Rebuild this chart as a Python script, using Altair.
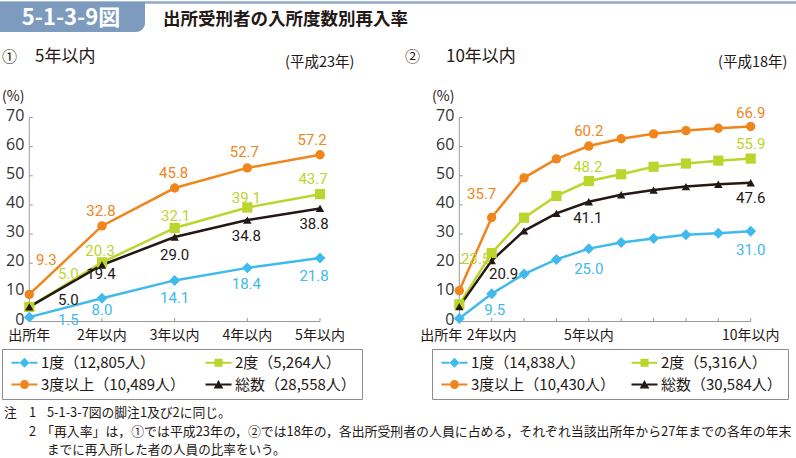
import altair as alt
import pandas as pd

# ---------------- data ----------------
series = ["1度", "2度", "3度以上", "総数"]

left_x_labels = ["出所年", "2年以内", "3年以内", "4年以内", "5年以内"]
left_counts = ["12,805", "5,264", "10,489", "28,558"]
left_1 = [1.5, 8.0, 14.1, 18.4, 21.8]
left_2 = [5.0, 20.3, 32.1, 39.1, 43.7]
left_3 = [9.3, 32.8, 45.8, 52.7, 57.2]
left_t = [5.0, 19.4, 29.0, 34.8, 38.8]

right_x_labels = ["出所年", "2年以内", "", "", "5年以内", "", "", "", "", "10年以内"]
right_counts = ["14,838", "5,316", "10,430", "30,584"]
right_1 = [1.0, 9.5, 16.3, 21.3, 25.0, 27.1, 28.5, 29.8, 30.3, 31.0]
right_2 = [5.9, 23.5, 35.6, 43.1, 48.2, 50.5, 53.1, 54.2, 55.2, 55.9]
right_3 = [10.6, 35.7, 49.3, 55.8, 60.2, 62.7, 64.4, 65.5, 66.3, 66.9]
right_t = [5.1, 20.9, 31.1, 37.1, 41.1, 43.5, 45.1, 46.3, 47.1, 47.6]
right_labeled = [2, 5, 10]

y_ticks = [0, 10, 20, 30, 40, 50, 60, 70]

# ---------------- styles ----------------
COLORS = ["#40b9ec", "#bcd52d", "#f0851c", "#231815"]
SHAPES = ["diamond", "square", "circle", "triangle-up"]
SIZES = [120, 72, 75, 95]
DRAW_ORDER = ["1度", "3度以上", "2度", "総数"]
JP = "Noto Sans CJK JP"
NUM = "Roboto"
INK = "#231815"
AX = "#9a9a9a"
Y_RANGE = [321.5, 117.5]
PX_Y = (Y_RANGE[0] - Y_RANGE[1]) / (y_ticks[-1] - y_ticks[0])

# label offsets (pixels, relative to the point) -- placement style only
LEFT_OFF = {
    ("3度以上", 1): (17, -34), ("3度以上", 2): (-1, -15), ("3度以上", 3): (-1, -15),
    ("3度以上", 4): (-3, -16), ("3度以上", 5): (-8, -15),
    ("2度", 1): (39, -33), ("2度", 2): (-2, -11), ("2度", 3): (1, -12),
    ("2度", 4): (-1, -10), ("2度", 5): (-7, -15),
    ("総数", 1): (39, -7), ("総数", 2): (-1, 9), ("総数", 3): (0, 18),
    ("総数", 4): (-1, 16), ("総数", 5): (-6, 16),
    ("1度", 1): (39, 3), ("1度", 2): (0, 12), ("1度", 3): (0, 18),
    ("1度", 4): (-1, 16), ("1度", 5): (-6, 18),
}
RIGHT_OFF = {
    ("3度以上", 2): (-10, -23), ("3度以上", 5): (0, -15), ("3度以上", 10): (0, -14),
    ("2度", 2): (-16, 6), ("2度", 5): (-1, -14), ("2度", 10): (0, -15),
    ("総数", 2): (12, 13), ("総数", 5): (-1, 16), ("総数", 10): (0, 15),
    ("1度", 2): (3, 16), ("1度", 5): (0, 20), ("1度", 10): (0, 19),
}


def make_panel(xlabels, vals, xrange, offsets, labeled, first_right):
    n = len(xlabels)
    xs = list(range(1, n + 1))
    xscale = alt.Scale(domain=[1, n], range=xrange, nice=False, zero=False)
    yscale = alt.Scale(domain=[y_ticks[0], y_ticks[-1]], range=Y_RANGE, nice=False, zero=False)
    px_x = (xrange[1] - xrange[0]) / (n - 1)
    col = alt.Color("series:N", scale=alt.Scale(domain=series, range=COLORS), legend=None)

    rows = []
    for s in DRAW_ORDER:
        for x, v in zip(xs, vals[s]):
            rows.append(dict(series=s, x=x, v=v))
    df = pd.DataFrame(rows)

    lrows = []
    for s in DRAW_ORDER:
        for x in labeled:
            v = vals[s][x - 1]
            dx, dy = offsets[(s, x)]
            lrows.append(dict(series=s, lx=x + dx / px_x, ly=v - dy / PX_Y, label=f"{v:.1f}"))
    ldf = pd.DataFrame(lrows)

    X = lambda f: alt.X(f, scale=xscale, axis=None)
    Y = lambda f: alt.Y(f, scale=yscale, axis=None)

    # axes
    yaxis = alt.Chart(pd.DataFrame({"x": [xs[0]], "y0": [y_ticks[0]], "y1": [y_ticks[-1]]})).mark_rule(
        color=AX, strokeWidth=1).encode(x=X("x:Q"), y=Y("y0:Q"), y2="y1:Q")
    xaxis = alt.Chart(pd.DataFrame({"y": [y_ticks[0]], "x0": [xs[0]], "x1": [xs[-1]]})).mark_rule(
        color=AX, strokeWidth=1).encode(y=Y("y:Q"), x=X("x0:Q"), x2="x1:Q")
    ytk = alt.Chart(pd.DataFrame({"y": y_ticks, "x0": xs[0], "x1": xs[0] + 3.5 / px_x})).mark_rule(
        color=AX, strokeWidth=1).encode(y=Y("y:Q"), x=X("x0:Q"), x2="x1:Q")
    xtk = alt.Chart(pd.DataFrame({"x": xs, "y0": y_ticks[0], "y1": y_ticks[0] + 3.5 / PX_Y})).mark_rule(
        color=AX, strokeWidth=1).encode(x=X("x:Q"), y=Y("y0:Q"), y2="y1:Q")
    ylab = alt.Chart(pd.DataFrame({"y": y_ticks, "x": xs[0], "t": [str(t) for t in y_ticks]})).mark_text(
        align="right", baseline="middle", dx=-5, dy=-2, font="Open Sans", fontSize=16, color="#333333"
    ).encode(x=X("x:Q"), y=Y("y:Q"), text="t:N")

    xl = pd.DataFrame({"x": xs, "t": xlabels, "y": y_ticks[0]})
    xl = xl[xl["t"] != ""]
    layers = [yaxis, xaxis, ytk, xtk, ylab]
    if first_right:
        first = xl.iloc[:1]
        rest = xl.iloc[1:]
        layers.append(alt.Chart(first).mark_text(
            align="right", baseline="middle", dx=3, dy=14, font=JP, fontSize=14, color=INK
        ).encode(x=X("x:Q"), y=Y("y:Q"), text="t:N"))
    else:
        rest = xl
    layers.append(alt.Chart(rest).mark_text(
        align="center", baseline="middle", dy=14, font=JP, fontSize=14, color=INK
    ).encode(x=X("x:Q"), y=Y("y:Q"), text="t:N"))

    lines = alt.Chart(df).mark_line(strokeWidth=2.5).encode(
        x=X("x:Q"), y=Y("v:Q"), color=col, order="x:Q")
    pts = alt.Chart(df).mark_point(filled=True, opacity=1).encode(
        x=X("x:Q"), y=Y("v:Q"), color=col,
        shape=alt.Shape("series:N", scale=alt.Scale(domain=series, range=SHAPES), legend=None),
        size=alt.Size("series:N", scale=alt.Scale(domain=series, range=SIZES), legend=None))
    txt = alt.Chart(ldf).mark_text(font=NUM, fontSize=15, baseline="middle", align="center").encode(
        x=X("lx:Q"), y=Y("ly:Q"), text="label:N", color=col)

    layers += [lines, pts, txt]
    return alt.layer(*layers)


# ---------------- legend symbols (line + marker) ----------------
def seg(m):
    return (f"M-2,-0.16 L-{m},-0.16 L-{m},0.16 L-2,0.16 Z "
            f"M{m},-0.16 L2,-0.16 L2,0.16 L{m},0.16 Z ")

LEG_PATHS = [
    seg(0.77) + "M0,-0.77 L0.77,0 L0,0.77 L-0.77,0 Z",
    seg(0.62) + "M-0.62,-0.62 L0.62,-0.62 L0.62,0.62 L-0.62,0.62 Z",
    seg(0.69) + "M0.69,0 A0.69,0.69 0 1,1 -0.69,0 A0.69,0.69 0 1,1 0.69,0 Z",
    seg(0.4) + "M0,-0.7 L0.75,0.6 L-0.75,0.6 Z",
]


def make_legend(counts, lx, ly, col_pad):
    labels = [f"{s}（{c}人）" for s, c in zip(series, counts)]
    leg = alt.Legend(
        orient="none", legendX=lx, legendY=ly, columns=2, direction="horizontal",
        title=None, padding=6,
        strokeColor="#8c8c8c", fillColor="white", symbolSize=169, symbolStrokeWidth=0,
        symbolOffset=9, labelOffset=9, labelFont=JP, labelFontSize=15, labelColor=INK,
        rowPadding=6, columnPadding=col_pad, labelLimit=400, symbolOpacity=1)
    return alt.Chart(pd.DataFrame({"lab": labels})).mark_point(filled=True, size=169, opacity=1).encode(
        x=alt.value(-300), y=alt.value(-300),
        color=alt.Color("lab:N", scale=alt.Scale(domain=labels, range=COLORS), legend=leg),
        shape=alt.Shape("lab:N", scale=alt.Scale(domain=labels, range=LEG_PATHS), legend=leg))


def label(text, x, y, size, color=INK, font=JP, weight="normal", align="left"):
    return alt.Chart(pd.DataFrame({"t": [text]})).mark_text(
        x=x, y=y, fontSize=size, font=font, fontWeight=weight, color=color,
        align=align, baseline="middle").encode(text="t:N")


left_vals = {"1度": left_1, "2度": left_2, "3度以上": left_3, "総数": left_t}
right_vals = {"1度": right_1, "2度": right_2, "3度以上": right_3, "総数": right_t}

left_panel = make_panel(left_x_labels, left_vals, [29.3, 320.0], LEFT_OFF, [1, 2, 3, 4, 5], False)
right_panel = make_panel(right_x_labels, right_vals, [459.3, 750.7], RIGHT_OFF, right_labeled, True)

left_leg = make_legend(left_counts, 2, 349, 16)
right_leg = make_legend(right_counts, 432, 349, 12)

bar_color = "#7d9bbf"
top_line = alt.Chart(pd.DataFrame({"a": [0]})).mark_rule(color="#8fa9c9", strokeWidth=2.5).encode(
    x=alt.value(0), x2=alt.value(796), y=alt.value(2.5))
title_box = alt.Chart(pd.DataFrame({"a": [0]})).mark_rect(color=bar_color, cornerRadiusBottomRight=9).encode(
    x=alt.value(0), x2=alt.value(145), y=alt.value(2), y2=alt.value(32))

decor = [
    top_line, title_box,
    label("5-1-3-9図", 71, 17.5, 22, color="white", weight="bold", align="center"),
    label("出所受刑者の入所度数別再入率", 163, 20, 17.5, weight="bold"),
    label("①", 2, 57, 15),
    label("5年以内", 35, 57, 17),
    label("(平成23年)", 285, 63, 14.5),
    label("②", 405, 57, 15),
    label("10年以内", 446, 57, 17),
    label("(平成18年)", 718, 63, 14.5),
    label("(%)", 2, 97, 14),
    label("(%)", 432, 97, 14),
    label("注", 4, 413, 12.8),
    label("1", 29, 413, 12.8),
    label("5-1-3-7図の脚注1及び2に同じ。", 47, 413, 12.8),
    label("2", 29, 432, 12.8),
    label("「再入率」は，①では平成23年の，②では18年の，各出所受刑者の人員に占める，それぞれ当該出所年から27年までの各年の年末",
          41, 432, 12.9),
    label("までに再入所した者の人員の比率をいう。", 47, 450, 12.6),
]

chart = alt.layer(left_panel, right_panel, left_leg, right_leg, *decor).resolve_scale(
    x="independent", color="independent", shape="independent", size="independent"
).properties(
    width=796, height=458, autosize=alt.AutoSizeParams(type="none"), padding=0,
    background="white"
).configure_view(stroke=None)

chart.save("out.html", embed_options={"renderer": "svg", "actions": False})
